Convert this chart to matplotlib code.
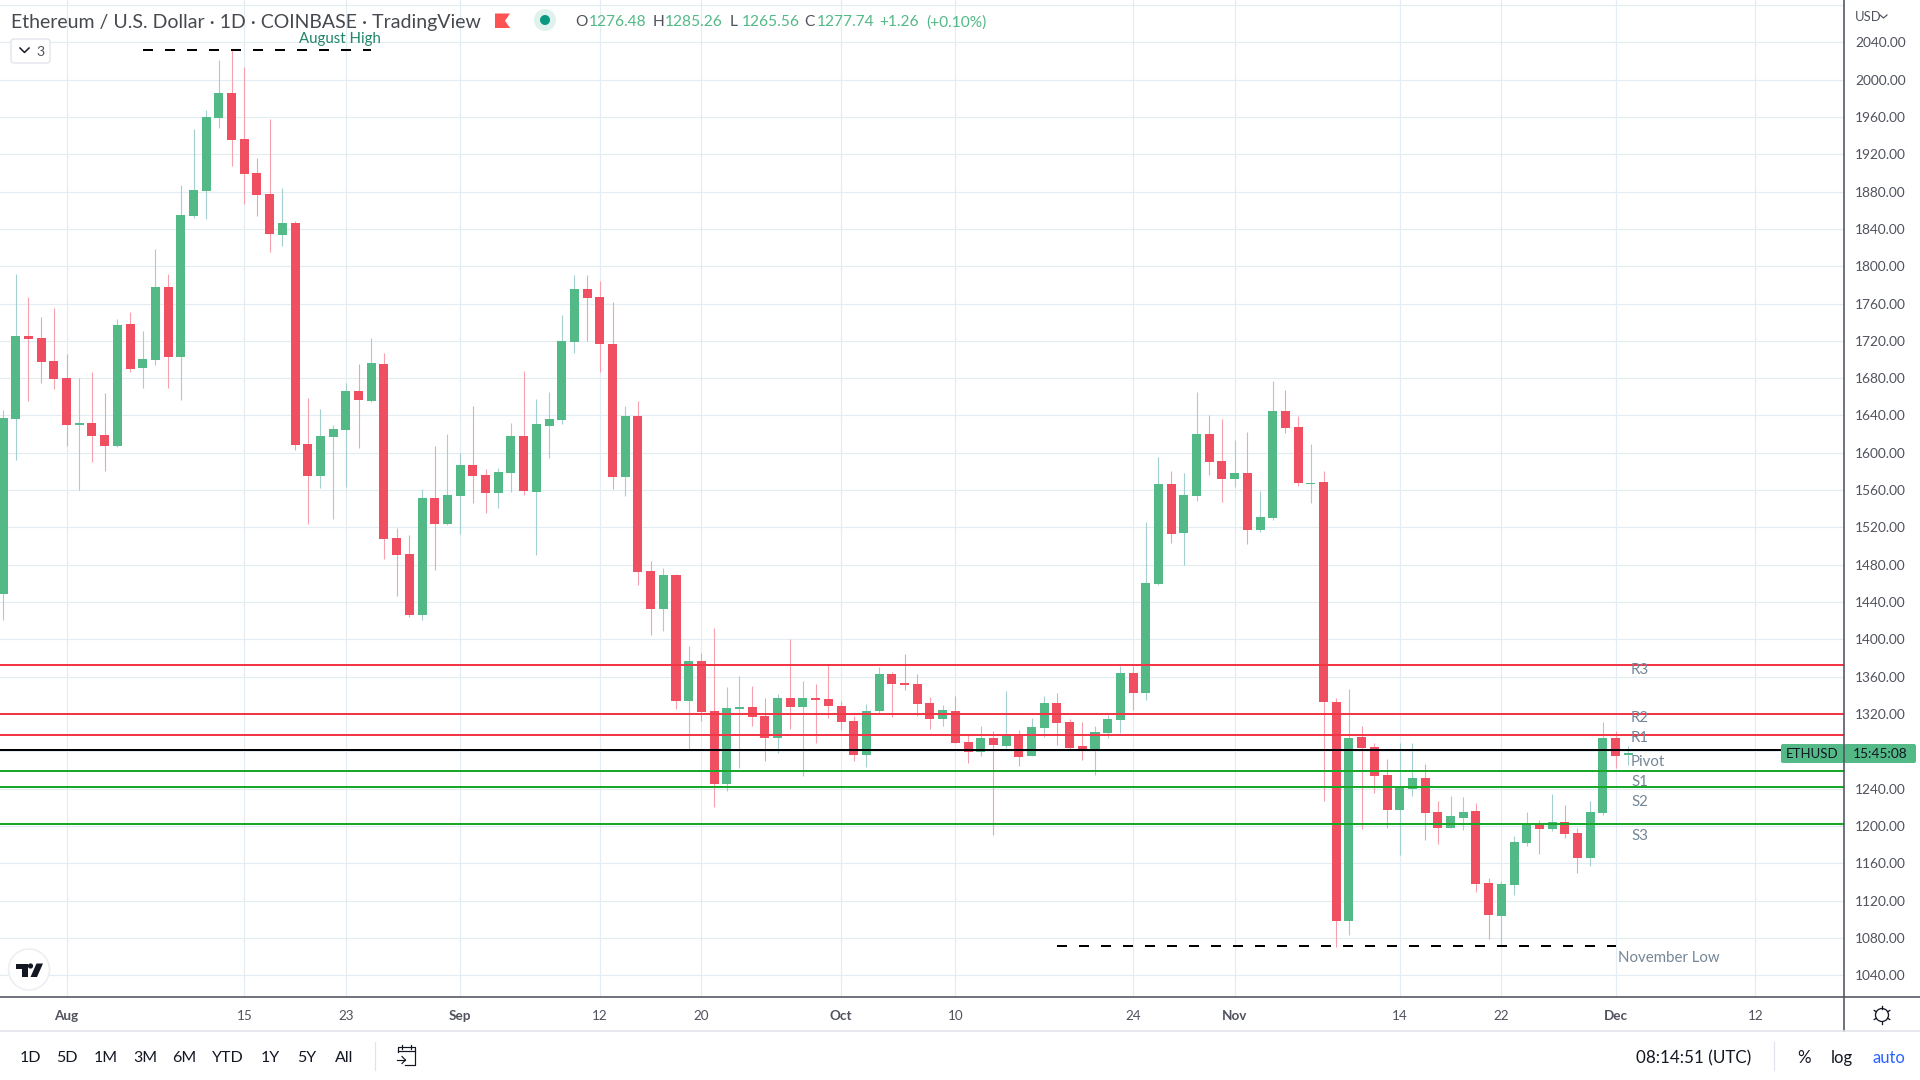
import numpy as np
import pandas as pd
import matplotlib
matplotlib.use("Agg")
import matplotlib.pyplot as plt
from matplotlib.patches import Polygon, Circle, FancyBboxPatch, Rectangle

# ---------- data ----------
first_day = "2022-07-27"
opens = [1448.5,1636.3,1724.8,1722.6,1698.6,1680.4,1630,1632,1619,1607.4,1737.7,1691,1699,1777.4,1702.2,1853.6,1880.4,1958.8,1985.6,1936.2,
1899.7,1877.2,1833.2,1846,1609.5,1575.2,1617,1624.5,1666.4,1655.7,1695.4,1508.6,1491.4,1426,1551.6,1523.6,1553.7,1587,1576.2,1556.9,
1578.4,1618,1558,1628.8,1635.3,1718.3,1775.2,1766.6,1716.2,1574,1639.6,1473.3,1432.8,1469,1334,1377,1323.4,1245,1325.5,1327.7,
1318,1294.4,1337.3,1327.7,1337.3,1336,1328.7,1312.6,1276,1323.4,1363,1353.4,1352.3,1332,1314.8,1323.4,1290,1279.4,1294.4,1285.8,
1296.5,1275,1305,1332,1311.5,1285.8,1282.6,1299.7,1313.7,1364,1342.7,1459,1566.6,1514,1553.7,1620,1591.3,1572,1578.4,1517.2,
1530,1645,1627.8,1567,1568.7,1333,1098,1295.6,1284.9,1254.8,1217.2,1239.8,1251.6,1215,1198,1208.6,1216,1139,1103.5,1136.7,
1182,1202.2,1196.8,1204.4,1192.6,1165.7,1214,1294.5,1276.48]
highs = [1646,1792,1766.6,1745.2,1754.8,1706,1680.4,1686.8,1664.3,1743,1750.5,1730,1818,1791.3,1886.9,1947,1967.4,2021,2031.8,2013.5,
1915.8,1957.7,1883.6,1848,1658.9,1647,1630,1675,1695.4,1722.6,1706.5,1519.3,1511.8,1561.2,1607.4,1620.2,1599.9,1650.3,1582.7,1583.8,
1632,1687.9,1657.8,1665.3,1747.3,1790.3,1790.3,1783.8,1761.3,1650.3,1655.7,1484,1476.5,1470,1393,1385.6,1412.4,1349,1361,1350,
1337.3,1341.6,1400.6,1355.6,1352.3,1372.7,1334,1318,1331,1370.6,1365,1384.5,1363,1338.4,1329.8,1339.5,1297.6,1307.3,1301.9,1344.8,
1303,1315.8,1339.5,1342.7,1314.8,1311.5,1307.3,1319,1371.7,1371.7,1525.8,1595.6,1580.5,1578.4,1665.3,1640.6,1636.3,1613.8,1622.4,1559,
1677,1667.5,1639.6,1609.5,1580.5,1337.5,1347,1307.4,1289,1272,1289,1289,1266.6,1227,1232.3,1231,1224.8,1144,1141,1189.3,
1215,1206.5,1234.4,1222.6,1198,1227,1311.7,1302,1285.26]
lows = [1420.6,1592.3,1655.7,1675,1668.5,1607.4,1560,1590,1580.5,1606,1686.8,1669.6,1694,1669.6,1656.7,1851.5,1850.4,1948,1907.3,1866.5,
1853.6,1815,1821.4,1603,1523.6,1562.3,1529,1563.4,1605.2,1654.6,1486,1446.4,1423.8,1420.6,1474.3,1523,1512.9,1546.2,1535.5,1540.8,
1558,1554.8,1490.4,1594.5,1631,1706.5,1719.4,1686.6,1561.2,1553.7,1458,1405,1409.2,1325.5,1281,1312.6,1220.3,1237.5,1262,1307,
1269.7,1278.3,1304,1253.6,1289,1315.8,1303,1269.7,1263,1321,1317,1346,1318,1304,1307,1289,1267.5,1275,1190,1283.6,
1264.3,1275,1295.4,1287,1282.6,1270.8,1254.7,1294.4,1299.7,1324.4,1335,1458,1503,1479.6,1548,1576.2,1547,1563.4,1502.2,1515,
1528,1621.3,1564.4,1546,1227,1070,1083,1196.8,1235.5,1198,1169,1232,1185,1180.7,1198,1195.8,1129,1078.8,1072.3,1126,
1178.6,1170,1194.7,1187.2,1149.6,1157,1212,1262.3,1265.56]
closes = [1637.4,1724.8,1721.6,1697.5,1679.3,1630,1632,1618,1607.4,1736.6,1690,1700,1777.4,1702.2,1854.7,1881.5,1959.9,1985.6,1935,1898.7,
1876,1834.3,1846,1608.4,1575.2,1618,1625.6,1666.4,1656.7,1696.5,1507.5,1490.4,1426,1551.6,1523.6,1554.8,1587,1575.2,1556.9,1579.5,
1618,1559,1631,1636.3,1719.4,1775.2,1765.6,1716.2,1574,1639.6,1472,1432.8,1469,1334,1377,1322.3,1245,1326.6,1327.7,1317,
1294.4,1337.3,1327.7,1337.3,1335,1328.7,1311.5,1276,1323.4,1363,1352.3,1351.3,1331,1314.8,1324.4,1289,1279.4,1294.4,1286.9,1296.5,
1274,1306,1332,1310.5,1283.6,1282.6,1300.8,1314.8,1364,1342.7,1460.3,1566.6,1513,1554.8,1620,1590.2,1572,1578.4,1517.2,1531,
1645,1626.7,1567.7,1568,1333,1098,1294.5,1283.8,1253.7,1217.2,1242,1251.6,1214,1198,1210.8,1215,1137.8,1104.5,1137.8,1183,
1202.2,1196.8,1204.4,1191.5,1165.7,1215,1294.5,1275.2,1277.74]

resistance = {"R3": 1373.0, "R2": 1319.5, "R1": 1298.0}
pivot = {"Pivot": 1281.0}
support = {"S1": 1258.5, "S2": 1242.0, "S3": 1202.5}

august_high = 2031.7
november_low = 1071.7
august_span = ("2022-08-07", "2022-08-25")
november_span = ("2022-10-18", "2022-12-01")

y_ticks = list(range(1040, 2081, 40))
y_tick_labels = [2040,2000,1960,1920,1880,1840,1800,1760,1720,1680,1640,1600,1560,1520,1480,1440,1400,1360,1320,1240,1200,1160,1120,1080,1040]
x_tick_dates = ["2022-08-01","2022-08-15","2022-08-23","2022-09-01","2022-09-12","2022-09-20","2022-10-01","2022-10-10","2022-10-24","2022-11-01","2022-11-14","2022-11-22","2022-12-01","2022-12-12"]
x_tick_text = ["Aug","15","23","Sep","12","20","Oct","10","24","Nov","14","22","Dec","12"]
x_tick_bold = ["Aug","Sep","Oct","Nov","Dec"]
ranges = ["1D","5D","1M","3M","6M","YTD","1Y","5Y","All"]

# ---------- style ----------
UP, DOWN = "#53b987", "#ef4f60"
UPW, DOWNW = "#a3cfd0", "#f7a1ae"
GRID = "#e3ecf2"
AXIS = "#50535e"
MUTED = "#758696"
DARK = "#131722"
FONT = "Lato"
PX = 0.72
plt.rcParams["font.family"] = FONT

fig = plt.figure(figsize=(19.2, 10.8), dpi=100, facecolor="white")
W, H = 1920, 1080
PLOT_R, PLOT_B = 1843.5, 997
ax = fig.add_axes([0, (H-PLOT_B)/H, PLOT_R/W, PLOT_B/H])

base = pd.Timestamp("2022-08-01")
def day(s):
    return (pd.Timestamp(s) - base).days
dates = pd.date_range(first_day, periods=len(opens))
xs = np.array([(d - base).days for d in dates])
o, h, l, c = map(np.array, (opens, highs, lows, closes))
up = c >= o

ax.set_xlim(-5.24, 139.95)
ax.set_ylim(1016.7, 2085.3)
ax.set_yticks(y_ticks)
ax.set_xticks([day(s) for s in x_tick_dates])
ax.tick_params(left=False, bottom=False, labelleft=False, labelbottom=False)
ax.grid(True, color=GRID, lw=1.2*PX, zorder=0)
ax.set_axisbelow(True)
for s in ax.spines.values():
    s.set_visible(False)

ax.vlines(xs[up], l[up], h[up], color=UPW, lw=1.1*PX, zorder=2)
ax.vlines(xs[~up], l[~up], h[~up], color=DOWNW, lw=1.1*PX, zorder=2)
ax.bar(xs[up], (c-o)[up], bottom=o[up], width=0.71, color=UP, lw=0, zorder=3)
ax.bar(xs[~up], (o-c)[~up], bottom=c[~up], width=0.71, color=DOWN, lw=0, zorder=3)

for v in resistance.values():
    ax.axhline(v, color="#f23645", lw=2*PX, zorder=4)
for v in support.values():
    ax.axhline(v, color="#18a828", lw=2*PX, zorder=4)
for v in pivot.values():
    ax.axhline(v, color="#000000", lw=2*PX, zorder=4)
dash = (0, (10/2, 12/2))
ax.plot([day(august_span[0]), day(august_span[1])], [august_high]*2, color="black", lw=2*PX, ls=dash, zorder=5)
ax.plot([day(november_span[0]), day(november_span[1])], [november_low]*2, color="black", lw=2*PX, ls=dash, zorder=5)

# ---------- pixel overlay for the app chrome ----------
ov = fig.add_axes([0, 0, 1, 1], zorder=10)
ov.set_xlim(0, W); ov.set_ylim(H, 0); ov.axis("off"); ov.patch.set_alpha(0)
def T(x, y, s, size, color=DARK, ha="left", weight="normal", family=None):
    ov.text(x, y, s, fontsize=size*PX, color=color, ha=ha, va="center_baseline", fontweight=weight,
            family=family or FONT)

# axis frames
ov.plot([0, W], [PLOT_B, PLOT_B], color=AXIS, lw=1.6*PX)
ov.plot([PLOT_R, PLOT_R], [0, 1031], color=AXIS, lw=1.6*PX)
ov.plot([0, W], [1031, 1031], color="#e0e3eb", lw=1.6*PX)

# price tick labels, positioned through the data axis
for v in y_tick_labels:
    y = PLOT_B * (2085.3 - v) / (2085.3 - 1016.7)
    T(1855, y, f"{v:.2f}", 13.7, "#50535e")
T(1855, 16, "USD", 13, "#50535e")
ov.plot([1880, 1883.5, 1887], [15, 18, 15], color="#50535e", lw=1.2*PX)

# time tick labels
for s, t in zip(x_tick_dates, x_tick_text):
    x = PLOT_R * (day(s) + 5.24) / 145.19
    T(x, 1015, t, 13.5, "#50535e", ha="center", weight="bold" if t in x_tick_bold else "normal")

# title row
T(11, 21, "Ethereum / U.S. Dollar · 1D · COINBASE · TradingView", 19.5, "#46494f")
ov.add_patch(Polygon([[495, 13.5], [510, 13.5], [505, 20.8], [510, 28], [495, 28]], color="#ff5252", lw=0))
ov.add_patch(Circle((545, 20), 11, color="#e0f2ee", lw=0))
ov.add_patch(Circle((545, 20), 5, color="#089981", lw=0))
for x, s, col in [(575.5,"O","#50535e"),(589,"1276.48",UP),(652.5,"H","#50535e"),(665,"1285.26",UP),
                  (730,"L","#50535e"),(742,"1265.56",UP),(804.5,"C","#50535e"),(817,"1277.74",UP),
                  (879,"+1.26",UP),(926,"(+0.10%)",UP)]:
    T(x, 21, s, 15.5, col)

# collapse box
ov.add_patch(FancyBboxPatch((13, 41), 35, 20, boxstyle="round,pad=2,rounding_size=3", fc="white", ec="#e0e3eb", lw=1.3*PX))
ov.plot([20, 24.5, 29], [48, 52.5, 48], color=DARK, lw=1.5*PX)
T(36, 51, "3", 14, "#50535e")

# labels
T(339.5, 37, "August High", 15, "#22866a", ha="center")
T(1618, 957, "November Low", 15, MUTED)
for s, y in [("R3",668),("R2",717),("R1",736),("Pivot",761),("S1",781),("S2",801),("S3",835)]:
    T(1631, y, s, 15, MUTED)

# price tag
tag_y = 753.5
ov.add_patch(FancyBboxPatch((1783, 746), 60, 15, boxstyle="round,pad=2,rounding_size=2", fc=UP, ec="none", lw=0))
ov.add_patch(FancyBboxPatch((1846, 746), 68, 15, boxstyle="round,pad=2,rounding_size=2", fc=UP, ec="none", lw=0))
T(1812, tag_y, "ETHUSD", 13.3, DARK, ha="center")
T(1880, tag_y, "15:45:08", 13.7, DARK, ha="center")

# toolbar
for s, x in zip(ranges, [30,67,106,145,184,228,270,307,344]):
    T(x, 1056.5, s, 16, DARK, ha="center")
ov.plot([375, 375], [1042, 1070], color="#e0e3eb", lw=1.2*PX)
T(1636, 1056.5, "08:14:51 (UTC)", 17, DARK)
ov.plot([1774, 1774], [1042, 1070], color="#e0e3eb", lw=1.2*PX)
T(1804, 1056.5, "%", 17, DARK, ha="center")
T(1842, 1056.5, "log", 16.5, DARK, ha="center")
T(1889, 1056.5, "auto", 16.5, "#2962ff", ha="center")

# calendar icon
ov.plot([398, 398, 415, 415, 405], [1052, 1047, 1047, 1065, 1065], color="#131722", lw=1.2*PX)
ov.plot([398, 415], [1051, 1051], color="#131722", lw=1.2*PX)
ov.plot([402, 402], [1045, 1049], color="#131722", lw=1.2*PX)
ov.plot([411, 411], [1045, 1049], color="#131722", lw=1.2*PX)
ov.plot([397, 405], [1060, 1060], color="#131722", lw=1.2*PX)
ov.plot([402, 405.5, 402], [1056.5, 1060, 1063.5], color="#131722", lw=1.2*PX)

# gear icon
ov.add_patch(Circle((1882, 1015), 6.5, fc="none", ec="#131722", lw=1.3*PX))
for a in np.arange(0, 360, 60) + 30:
    r = np.radians(a)
    ov.plot([1882+6.5*np.cos(r), 1882+9*np.cos(r)], [1015+6.5*np.sin(r), 1015+9*np.sin(r)], color="#131722", lw=1.3*PX)

# logo
ov.add_patch(Circle((29, 969.5), 20.5, fc="white", ec="#eceef2", lw=1.6*PX))
ov.add_patch(Polygon([[16, 963.5], [27.5, 963.5], [27.5, 977], [22, 977], [22, 968.5], [16, 968.5]], color="#131722", lw=0))
ov.add_patch(Circle((30.5, 966), 2.6, color="#131722", lw=0))
ov.add_patch(Polygon([[36.5, 963.5], [43, 963.5], [37, 977], [30.5, 977]], color="#131722", lw=0))

fig.savefig("out.png", dpi=100)
